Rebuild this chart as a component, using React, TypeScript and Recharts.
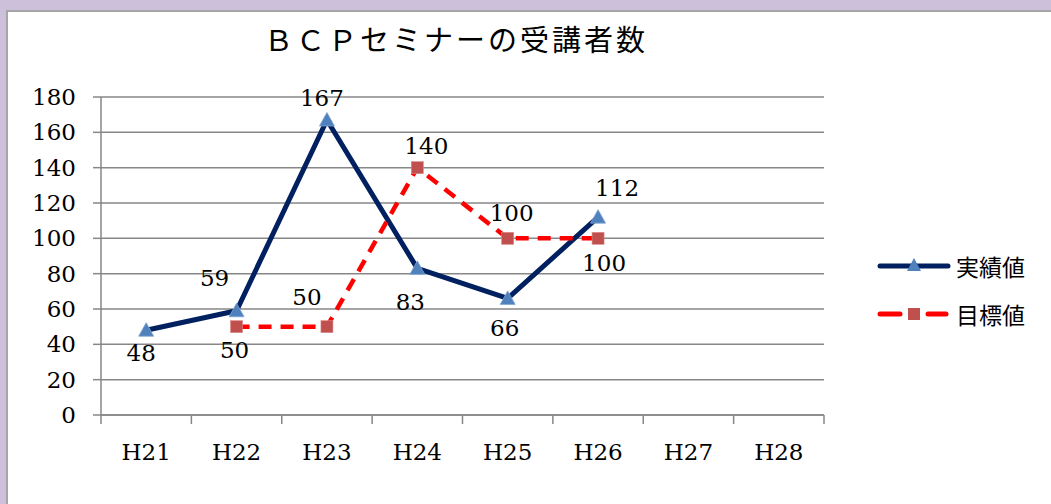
import React from "react";
import { LineChart, Line, XAxis, YAxis, CartesianGrid, Legend, LabelList } from "recharts";

const categories = ["H21", "H22", "H23", "H24", "H25", "H26", "H27", "H28"];
const actualValues: (number | null)[] = [48, 59, 167, 83, 66, 112, null, null];
const targetValues: (number | null)[] = [null, 50, 50, 140, 100, 100, null, null];
const yTicks = [0, 20, 40, 60, 80, 100, 120, 140, 160, 180];
const seriesNames = { actual: "実績値", target: "目標値" };
const titleText = "ＢＣＰセミナーの受講者数";

// label placement offsets (style, not data)
const actualLabelOffsets: [number, number][] = [[-5, 23], [-22, -33], [-5, -22], [-7, 34], [-3, 30], [19, -29], [0, 0], [0, 0]];
const targetLabelOffsets: [number, number][] = [[0, 0], [-2, 23], [-20, -30], [9, -22], [4, -25], [6, 25], [0, 0], [0, 0]];

const data = categories.map((c, i) => ({ name: c, actual: actualValues[i], target: targetValues[i] }));

const W = 1051;
const H = 504;
const M = { top: 97, right: 227, bottom: 49, left: 41 };
const Y_W = 60;
const X_H = 40;
const plotW = W - M.left - Y_W - M.right;
const band = plotW / categories.length;

const SERIF = "'DejaVu Serif', 'Noto Sans CJK JP', serif";
const SANS = "'Noto Sans CJK JP', 'Noto Sans', sans-serif";
const AXIS = "#878787";
const NAVY = "#002060";
const TRI = "#4f81bd";
const RED = "#ff0000";
const SQ = "#c0504d";
const FS = 23;

const XTick = (props: any) => {
  const { x, y, payload, index, visibleTicksCount } = props;
  const left = x - band / 2;
  const right = x + band / 2;
  return (
    <g>
      <line x1={left} y1={y} x2={left} y2={y + 9} stroke={AXIS} strokeWidth={1.5} />
      {index === visibleTicksCount - 1 && (
        <line x1={right} y1={y} x2={right} y2={y + 9} stroke={AXIS} strokeWidth={1.5} />
      )}
      <text x={x} y={y + 37} textAnchor="middle" dominantBaseline="central" fontFamily={SERIF} fontSize={FS} fill="#000">
        {payload.value}
      </text>
    </g>
  );
};

const Triangle = (props: any) => {
  const { cx, cy, value } = props;
  if (value == null || cx == null || cy == null) return null;
  const s = 7.5;
  return <path d={`M${cx},${cy - s} L${cx + s},${cy + s * 0.8} L${cx - s},${cy + s * 0.8} Z`} fill={TRI} stroke="#7fa3d3" strokeWidth={0.8} />;
};

const Square = (props: any) => {
  const { cx, cy, value } = props;
  if (value == null || cx == null || cy == null) return null;
  const s = 6;
  return <rect x={cx - s} y={cy - s} width={2 * s} height={2 * s} fill={SQ} stroke="#d88" strokeWidth={0.6} />;
};

const makeLabel = (offsets: [number, number][]) => (props: any) => {
  const { x, y, value, index } = props;
  if (value == null || x == null || y == null) return null;
  const [dx, dy] = offsets[index] || [0, 0];
  return (
    <text x={x + dx} y={y + dy} textAnchor="middle" dominantBaseline="central" fontFamily={SERIF} fontSize={FS} fill="#000">
      {value}
    </text>
  );
};

const LegendContent = () => (
  <div style={{ fontFamily: SANS, fontSize: 23, color: "#000" }}>
    <div style={{ display: "flex", alignItems: "center", height: 30, marginBottom: 18 }}>
      <svg width={76} height={24} style={{ marginRight: 4 }}>
        <line x1={4} y1={12} x2={72} y2={12} stroke={NAVY} strokeWidth={5} strokeLinecap="round" />
        <path d="M38,4 L45,17 L31,17 Z" fill={TRI} />
      </svg>
      <span>{seriesNames.actual}</span>
    </div>
    <div style={{ display: "flex", alignItems: "center", height: 30 }}>
      <svg width={76} height={24} style={{ marginRight: 4 }}>
        <line x1={4} y1={12} x2={24} y2={12} stroke={RED} strokeWidth={5} strokeLinecap="round" />
        <line x1={52} y1={12} x2={70} y2={12} stroke={RED} strokeWidth={5} strokeLinecap="round" />
        <rect x={32} y={6} width={12} height={12} fill={SQ} />
      </svg>
      <span>{seriesNames.target}</span>
    </div>
  </div>
);

export default function App() {
  return (
    <div style={{ position: "absolute", left: 0, top: 0, width: W, height: H, background: "#ccc0da", overflow: "hidden" }}>
      <div
        style={{
          position: "absolute",
          left: 6,
          top: 10,
          width: W,
          height: H,
          background: "#fff",
          borderLeft: "2px solid #a6a6a6",
          borderTop: "2px solid #a6a6a6",
        }}
      />
      <div
        style={{
          position: "absolute",
          left: 0,
          top: 22,
          width: 912,
          textAlign: "center",
          fontFamily: SERIF,
          fontSize: 29,
          lineHeight: "38px",
          letterSpacing: 3,
          color: "#000",
        }}
      >
        {titleText}
      </div>
      <div style={{ position: "absolute", left: 0, top: 0 }}>
        <LineChart width={W} height={H} data={data} margin={M}>
          <CartesianGrid vertical={false} stroke={AXIS} strokeWidth={1.5} />
          <XAxis
            dataKey="name"
            height={X_H}
            interval={0}
            padding={{ left: band / 2, right: band / 2 }}
            tickLine={false}
            tickSize={0}
            tickMargin={0}
            axisLine={{ stroke: AXIS, strokeWidth: 1.5 }}
            tick={<XTick />}
          />
          <YAxis
            width={Y_W}
            domain={[0, 180]}
            ticks={yTicks}
            interval={0}
            tickSize={8}
            tickMargin={17}
            tickLine={{ stroke: AXIS, strokeWidth: 1.5 }}
            axisLine={{ stroke: AXIS, strokeWidth: 1.5 }}
            tick={{ fontFamily: SERIF, fontSize: FS, fill: "#000" }}
          />
          <Legend
            layout="horizontal"
            align="center"
            verticalAlign="middle"
            wrapperStyle={{ left: 876, top: 251, width: 175 }}
            content={<LegendContent />}
          />
          <Line
            type="linear"
            dataKey="actual"
            name={seriesNames.actual}
            stroke={NAVY}
            strokeWidth={5}
            strokeLinejoin="round"
            dot={<Triangle />}
            activeDot={false}
            isAnimationActive={false}
          >
            <LabelList dataKey="actual" content={makeLabel(actualLabelOffsets)} />
          </Line>
          <Line
            type="linear"
            dataKey="target"
            name={seriesNames.target}
            stroke={RED}
            strokeWidth={4.5}
            strokeDasharray="13 9"
            dot={<Square />}
            activeDot={false}
            isAnimationActive={false}
          >
            <LabelList dataKey="target" content={makeLabel(targetLabelOffsets)} />
          </Line>
        </LineChart>
      </div>
    </div>
  );
}
